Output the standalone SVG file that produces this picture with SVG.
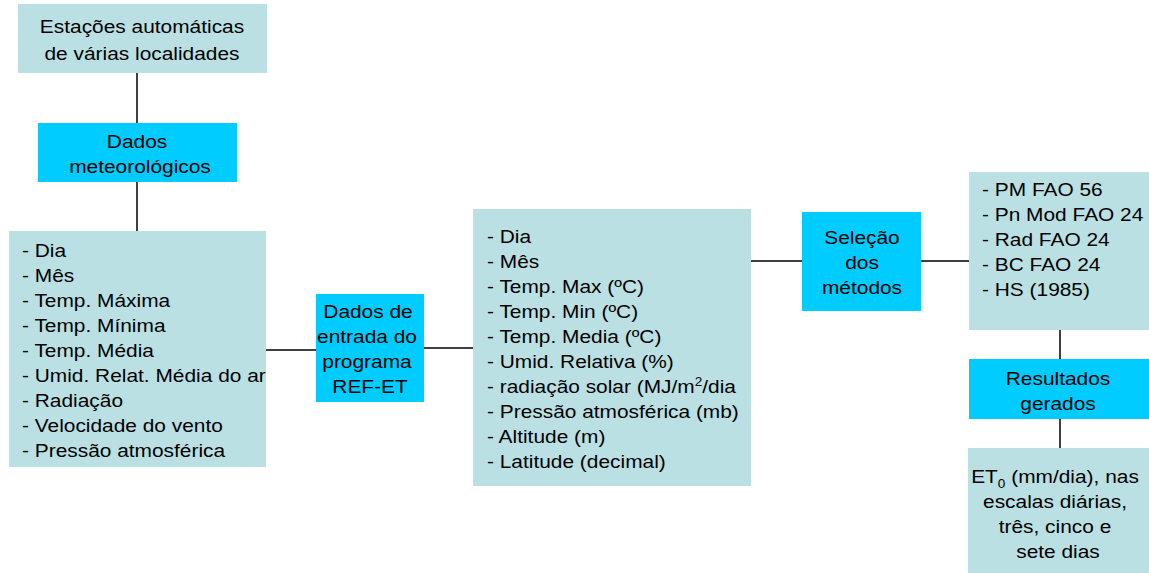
<svg xmlns="http://www.w3.org/2000/svg" width="1149" height="573" viewBox="0 0 1149 573">
<style>
.lb{fill:#BAE0E3}
.cy{fill:#00CCFF}
text{font-family:"Liberation Sans",Arial,sans-serif;font-size:18.5px;fill:#000}
.c{text-anchor:middle}
.conn line{stroke:#000;stroke-width:1.5}
</style>
<rect width="1149" height="573" fill="#fff"/>
<g class="conn">
<line x1="137" y1="73" x2="137" y2="123"/>
<line x1="137" y1="182" x2="137" y2="231"/>
<line x1="266" y1="350" x2="316" y2="350"/>
<line x1="424" y1="348" x2="473" y2="348"/>
<line x1="751" y1="261" x2="802" y2="261"/>
<line x1="921" y1="261" x2="969" y2="261"/>
<line x1="1060" y1="330" x2="1060" y2="359"/>
<line x1="1060" y1="419" x2="1060" y2="448"/>
</g>
<g id="estacoes">
<rect class="lb" x="18" y="4" width="249" height="69"/>
<text class="c" transform="translate(142 33) scale(1.13 1)">Estações automáticas</text>
<text class="c" transform="translate(142 60) scale(1.13 1)">de várias localidades</text>
</g>
<g id="dados-met">
<rect class="cy" x="38" y="123" width="199" height="59"/>
<text class="c" transform="translate(137 148) scale(1.13 1)">Dados</text>
<text class="c" transform="translate(140 173) scale(1.13 1)">meteorológicos</text>
</g>
<g id="lista-met">
<rect class="lb" x="9" y="231" width="257" height="236"/>
<text transform="translate(22 257) scale(1.13 1)">- Dia</text>
<text transform="translate(22 282) scale(1.13 1)">- Mês</text>
<text transform="translate(22 307) scale(1.13 1)">- Temp. Máxima</text>
<text transform="translate(22 332) scale(1.13 1)">- Temp. Mínima</text>
<text transform="translate(22 357) scale(1.13 1)">- Temp. Média</text>
<text transform="translate(22 382) scale(1.13 1)">- Umid. Relat. Média do ar</text>
<text transform="translate(22 407) scale(1.13 1)">- Radiação</text>
<text transform="translate(22 432) scale(1.13 1)">- Velocidade do vento</text>
<text transform="translate(22 457) scale(1.13 1)">- Pressão atmosférica</text>
</g>
<g id="dados-entrada">
<rect class="cy" x="316" y="294" width="108" height="108"/>
<text class="c" transform="translate(368 318) scale(1.13 1)">Dados de</text>
<text class="c" transform="translate(367 343) scale(1.13 1)">entrada do</text>
<text class="c" transform="translate(367 368) scale(1.13 1)">programa</text>
<text class="c" transform="translate(370 393) scale(1.13 1)">REF-ET</text>
</g>
<g id="lista-entrada">
<rect class="lb" x="473" y="209" width="278" height="277"/>
<text transform="translate(487 243) scale(1.13 1)">- Dia</text>
<text transform="translate(487 268) scale(1.13 1)">- Mês</text>
<text transform="translate(487 293) scale(1.13 1)">- Temp. Max (ºC)</text>
<text transform="translate(487 318) scale(1.13 1)">- Temp. Min (ºC)</text>
<text transform="translate(487 343) scale(1.13 1)">- Temp. Media (ºC)</text>
<text transform="translate(487 368) scale(1.13 1)">- Umid. Relativa (%)</text>
<text transform="translate(487 393) scale(1.13 1)">- radiação solar (MJ/m<tspan font-size="12" dy="-7">2</tspan><tspan dy="7">/dia</tspan></text>
<text transform="translate(487 418) scale(1.13 1)">- Pressão atmosférica (mb)</text>
<text transform="translate(487 443) scale(1.13 1)">- Altitude (m)</text>
<text transform="translate(487 468) scale(1.13 1)">- Latitude (decimal)</text>
</g>
<g id="selecao">
<rect class="cy" x="802" y="212" width="119" height="99"/>
<text class="c" transform="translate(862 244) scale(1.13 1)">Seleção</text>
<text class="c" transform="translate(862 269) scale(1.13 1)">dos</text>
<text class="c" transform="translate(862 294) scale(1.13 1)">métodos</text>
</g>
<g id="metodos">
<rect class="lb" x="969" y="172" width="180" height="158"/>
<text transform="translate(982 196) scale(1.13 1)">- PM FAO 56</text>
<text transform="translate(982 221) scale(1.13 1)">- Pn Mod FAO 24</text>
<text transform="translate(982 246) scale(1.13 1)">- Rad FAO 24</text>
<text transform="translate(982 271) scale(1.13 1)">- BC FAO 24</text>
<text transform="translate(982 296) scale(1.13 1)">- HS (1985)</text>
</g>
<g id="resultados">
<rect class="cy" x="969" y="359" width="180" height="60"/>
<text class="c" transform="translate(1058 385) scale(1.13 1)">Resultados</text>
<text class="c" transform="translate(1058 410) scale(1.13 1)">gerados</text>
</g>
<g id="et0">
<rect class="lb" x="968" y="448" width="181" height="125"/>
<text class="c" transform="translate(1055 483) scale(1.13 1)">ET<tspan font-size="12" dy="5">0</tspan><tspan dy="-5"> (mm/dia), nas</tspan></text>
<text class="c" transform="translate(1055 508) scale(1.13 1)">escalas diárias,</text>
<text class="c" transform="translate(1055 533) scale(1.13 1)">três, cinco e</text>
<text class="c" transform="translate(1058 558) scale(1.13 1)">sete dias</text>
</g>
</svg>
